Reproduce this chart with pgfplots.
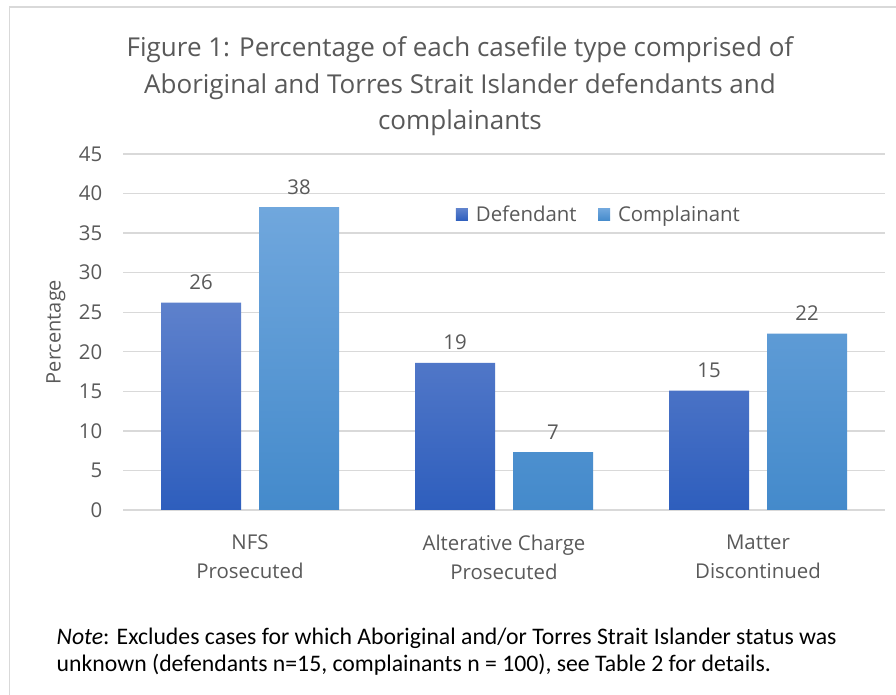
\documentclass[border=0pt]{standalone}
\usepackage{fontspec}
\setmainfont{Open Sans}
\newfontfamily\carlito{Carlito}
\usepackage{pgfplots}
\pgfplotsset{compat=1.18}
\definecolor{txt}{HTML}{595959}
\definecolor{gridc}{HTML}{D9D9D9}
\definecolor{deftop}{RGB}{94,129,204}
\definecolor{defbot}{RGB}{46,94,189}
\definecolor{comtop}{RGB}{112,167,221}
\definecolor{combot}{RGB}{68,138,203}
\definecolor{defleg}{RGB}{60,105,198}
\definecolor{comleg}{RGB}{90,155,215}
\begin{document}
\begin{tikzpicture}
\begin{scope}[x=0.75pt,y=0.75pt]
\path[use as bounding box] (0,0) rectangle (896,695);
\fill[white] (0,0) rectangle (896,695);
\draw[gridc, line width=1pt] (9.5,0) -- (9.5,688) -- (896,688);
\node[txt, font=\fontsize{19.5}{27.4}\selectfont, align=center] at (460,608.5)
  {Figure 1: Percentage of each casefile type comprised of\\Aboriginal and Torres Strait Islander defendants and\\complainants};
\node[txt, font=\fontsize{15}{17}\selectfont, rotate=90] at (56,363) {Percentage};
\node[black, font=\carlito\fontsize{17.8}{20.3}\selectfont, align=left, anchor=west] at (52,43.5)
  {\textit{Note}: Excludes cases for which Aboriginal and/or Torres Strait Islander status was\\unknown (defendants n=15, complainants n = 100), see Table 2 for details.};
\end{scope}
\begin{axis}[
  at={(92.25pt,138.75pt)}, anchor=south west,
  scale only axis, width=571.5pt, height=267pt,
  xmin=-0.5, xmax=2.5, ymin=0, ymax=45,
  ybar=13.5pt, bar width=60pt,
  enlarge x limits=false,
  axis line style={draw=none},
  major tick length=0pt,
  ymajorgrids, grid style={gridc, line width=1pt},
  ytick={0,5,...,45},
  xtick={0,1,2},
  xticklabels={{NFS\\Prosecuted},{Alterative Charge\\Prosecuted},{Matter\\Discontinued}},
  /pgf/number format/assume math mode=true,
  tick label style={txt, font=\fontsize{15.3}{21.75}\selectfont},
  xticklabel style={align=center, yshift=-15pt},
  yticklabel style={xshift=-12pt},
  nodes near coords={\pgfmathprintnumber[fixed,precision=0]{\pgfplotspointmeta}},
  every node near coord/.append style={txt, font=\fontsize{15.3}{17}\selectfont, yshift=6pt},
  legend style={at={(0.625,0.829)}, anchor=center, draw=none, fill=none,
    legend columns=2, font=\fontsize{15.3}{17}\selectfont, text=txt,
    /tikz/every even column/.append style={column sep=14pt}},
]
\addplot[draw=none, top color=deftop, bottom color=defbot,
  legend image code/.code={\fill[defleg] (0pt,-4.5pt) rectangle (9pt,4.5pt); \path (13pt,0pt);}]
  coordinates {(0,26.2) (1,18.6) (2,15.1)};
\addlegendentry{Defendant}
\addplot[draw=none, top color=comtop, bottom color=combot,
  legend image code/.code={\fill[comleg] (0pt,-4.5pt) rectangle (9pt,4.5pt); \path (13pt,0pt);}]
  coordinates {(0,38.3) (1,7.3) (2,22.3)};
\addlegendentry{Complainant}
\end{axis}
\end{tikzpicture}
\end{document}
